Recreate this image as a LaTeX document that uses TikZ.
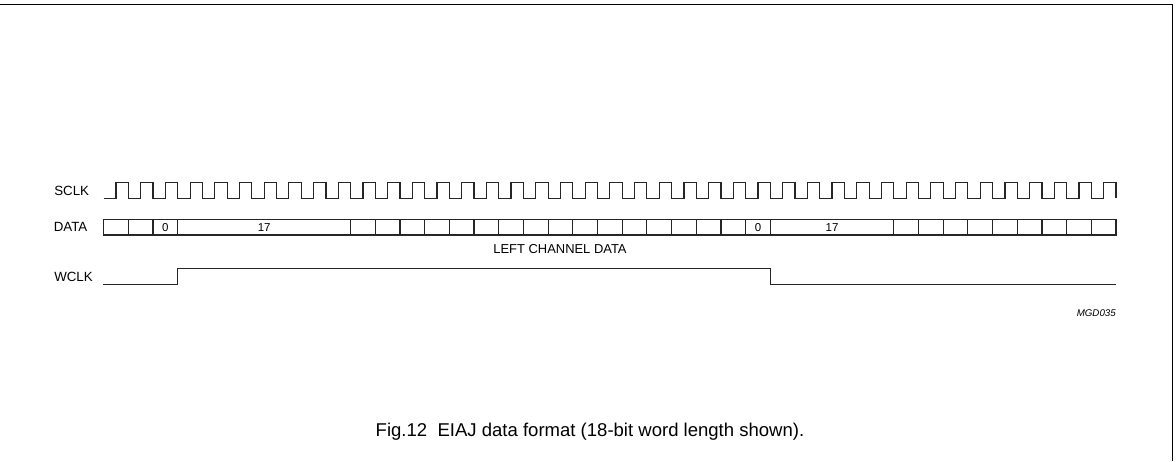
\documentclass[tikz,border=0pt]{standalone}
\usepackage{fontspec}
\setmainfont{Liberation Sans}
\begin{document}
\begin{tikzpicture}[x=0.75pt,y=-0.75pt,
  sig/.style={line width=0.9pt, line join=miter, color=black!85},
  lbl/.style={font=\fontsize{10}{12}\selectfont, anchor=west, inner sep=0pt},
  bitlbl/.style={font=\fontsize{8.6}{10}\selectfont, inner sep=0pt},
  frameline/.style={line width=1.1pt}]
\useasboundingbox (0,0) rectangle (1176,461);
\def\xo{103.7}
\def\w{24.69}
% frame
\draw[frameline] (0,4.5) -- (1172.5,4.5) -- (1172.5,461);
% signal labels
\node[lbl] (sclk) at (54,190.7) {SCLK};
\node[lbl] (data) at (53.5,227) {DATA};
\node[lbl] (wclk) at (54,276.7) {WCLK};
% SCLK waveform
\draw[sig] (\xo,198.3)
  \foreach \i in {0,...,40} {
    -- ({\xo+(\i+0.5)*\w},198.3) -- ({\xo+(\i+0.5)*\w},182.7)
    -- ({\xo+(\i+1)*\w},182.7) -- ({\xo+(\i+1)*\w},198.3)
  };
% DATA bus
\draw[sig] (\xo,219.3) rectangle ({\xo+41*\w},235);
\foreach \i in {1,2,3,10,11,12,13,14,15,16,17,18,19,20,21,22,23,24,25,26,27,32,33,34,35,36,37,38,39,40}
  \draw[sig] ({\xo+\i*\w},219.3) -- ({\xo+\i*\w},235);
\node[bitlbl] (b0a) at ({\xo+2.5*\w},227.2) {0};
\node[bitlbl] (b17a) at ({\xo+6.5*\w},227.2) {17};
\node[bitlbl] (b0b) at ({\xo+26.5*\w},227.2) {0};
\node[bitlbl] (b17b) at ({\xo+29.5*\w},227.2) {17};
\node[font=\fontsize{9.7}{11}\selectfont, inner sep=0pt] (lcd) at (560,249) {LEFT CHANNEL DATA};
% WCLK waveform
\draw[sig] (103.3,284.3) -- ({\xo+3*\w},284.3) -- ({\xo+3*\w},268.7)
  -- ({\xo+27*\w},268.7) -- ({\xo+27*\w},284.3) -- ({\xo+41*\w},284.3);
% code and caption
\node[font=\itshape\fontsize{7.3}{9}\selectfont, anchor=east, inner sep=0pt] (code) at (1116,313) {MGD035};
\node[font=\fontsize{13.9}{16}\selectfont, inner sep=0pt] (cap) at (590,432) {Fig.12\ \ EIAJ data format (18-bit word length shown).};
\end{tikzpicture}
\end{document}
